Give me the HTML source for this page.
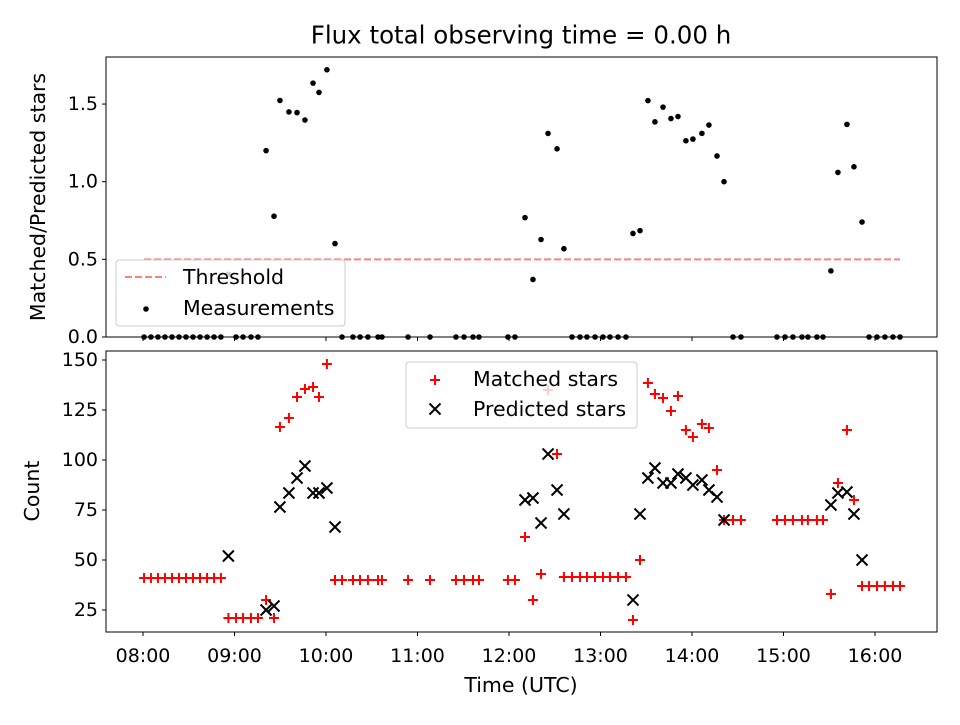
<!DOCTYPE html>
<html><head><meta charset="utf-8"><style>
body{margin:0;background:#fff}
svg text{font-family:"DejaVu Sans","Liberation Sans",sans-serif;fill:#000}
</style></head><body>
<svg id="c" width="960" height="720" viewBox="0 0 960 720" xmlns="http://www.w3.org/2000/svg"></svg>
<script>
// minutes after 08:00 UTC
const timesMin=[0.7,5.2,9.8,14.4,19,23.6,28.2,32.8,37.4,42,46.6,51.1,56,61,65.6,70.8,75.4,80.7,85.9,89.8,95.7,101,106.2,111.5,115.4,120.6,125.9,130.5,137.7,142.3,147.5,154.1,156.7,173.8,188.2,205.2,210.5,216.4,220.3,239.3,243.9,250.5,255.7,261,265.6,271.5,276,281.3,286.5,291.1,296.4,301.6,306.2,311.5,316.7,321.3,325.9,331.1,335.7,341,346.2,350.8,356,360.6,366.5,371.1,376.4,381,386.9,392.1,415.7,421,426.2,432.1,436,441.9,445.9,451.1,455.7,461.6,466.2,471.5,476.1,481.3,486.5,491.8,496.4];
const matched=[41,41,41,41,41,41,41,41,41,41,41,41,21,21,21,21,21,30,21,116.5,121,131.5,135.5,136.5,131.5,148,40,40,40,40,40,40,40,40,40,40,40,40,40,40,40,61.5,30,43,135,103,41.5,41.5,41.5,41.5,41.5,41.5,41.5,41.5,41.5,20,50,138.5,133,131,124.5,132,115,111.5,118,116,95,70,70,70,70,70,70,70,70,70,70,33,88.5,115,80,37,37,37,37,37,37];
const predicted=[null,null,null,null,null,null,null,null,null,null,null,null,52,null,null,null,null,25,27,76.5,83.5,91,97,83.5,83.5,86,66.5,null,null,null,null,null,null,null,null,null,null,null,null,null,null,80,81,68.5,103,85,73,null,null,null,null,null,null,null,null,30,73,91,96,88.5,88.5,93,91,87.5,90,85,81.5,70,null,null,null,null,null,null,null,null,null,77.5,83.5,84,73,50,null,null,null,null,null];
const threshold=0.5;
const timeTicks=["08:00","09:00","10:00","11:00","12:00","13:00","14:00","15:00","16:00"];
const ratioTicks=[0,0.5,1.0,1.5];
const countTicks=[25,50,75,100,125,150];

const NS="http://www.w3.org/2000/svg";
const svg=document.getElementById('c');
function el(t,a,p){const e=document.createElementNS(NS,t);for(const k in a)e.setAttribute(k,a[k]);(p||svg).appendChild(e);return e;}
const L=106,R=937,T1=57,B1=337,T2=351,B2=632;
const FS='19', FL='20.5';
const xs=m=>143+m*91.5/60;
const y1=v=>337-v*155.3;
const y2=v=>610-(v-25)*2;

let t=el('text',{x:521,y:35,'text-anchor':'middle','dominant-baseline':'central','font-size':'24.5'});t.textContent='Flux total observing time = 0.00 h';


[[T1,B1,'ratio-axes'],[T2,B2,'count-axes']].forEach(([a,b,n])=>{const r=el('rect',{x:L,y:a,width:R-L,height:b-a,fill:'#fff',stroke:'#000','stroke-width':1});});

timeTicks.forEach((s,i)=>{const x=xs(i*60);
 el('line',{x1:x,x2:x,y1:B1,y2:B1+4,stroke:'#000'});
 el('line',{x1:x,x2:x,y1:B2,y2:B2+4,stroke:'#000'});
 const tx=el('text',{x:x,y:B2+24,'text-anchor':'middle','dominant-baseline':'central','font-size':FS});tx.textContent=s;
 });
ratioTicks.forEach(v=>{const y=y1(v);el('line',{x1:L-4,x2:L,y1:y,y2:y,stroke:'#000'});
 const tx=el('text',{x:L-8,y:y,'text-anchor':'end','dominant-baseline':'central','font-size':FS});tx.textContent=v.toFixed(1);
 });
countTicks.forEach(v=>{const y=y2(v);el('line',{x1:L-4,x2:L,y1:y,y2:y,stroke:'#000'});
 const tx=el('text',{x:L-8,y:y,'text-anchor':'end','dominant-baseline':'central','font-size':FS});tx.textContent=v;
 });

t=el('text',{x:0,y:0,transform:'translate(38,197) rotate(-90)','text-anchor':'middle','dominant-baseline':'central','font-size':FL});t.textContent='Matched/Predicted stars';

t=el('text',{x:0,y:0,transform:'translate(32,491) rotate(-90)','text-anchor':'middle','dominant-baseline':'central','font-size':FL});t.textContent='Count';

t=el('text',{x:521,y:685,'text-anchor':'middle','dominant-baseline':'central','font-size':FL});t.textContent='Time (UTC)';


const th=el('line',{x1:xs(timesMin[0]),x2:xs(timesMin[timesMin.length-1]),y1:y1(threshold),y2:y1(threshold),stroke:'#ff8080','stroke-width':2,'stroke-dasharray':'7,3'});


timesMin.forEach((m,i)=>{const p=predicted[i];const r=p?matched[i]/p:0;
 const c=el('circle',{cx:xs(m),cy:y1(r),r:2.8,fill:'#000'});
 });

timesMin.forEach((m,i)=>{const x=xs(m),y=y2(matched[i]);
 const g=el('path',{d:`M${x-5},${y}H${x+5}M${x},${y-5}V${y+5}`,stroke:'#f00','stroke-width':2});
 });
timesMin.forEach((m,i)=>{if(predicted[i]==null)return;const x=xs(m),y=y2(predicted[i]);
 const g=el('path',{d:`M${x-5.5},${y-5.5}L${x+5.5},${y+5.5}M${x-5.5},${y+5.5}L${x+5.5},${y-5.5}`,stroke:'#000','stroke-width':2});
 });

let lg=el('g',{});
el('rect',{x:116,y:260,width:229,height:66,rx:3,fill:'rgba(255,255,255,0.8)',stroke:'#ccc'},lg);
el('line',{x1:125,x2:166,y1:277,y2:277,stroke:'#ff8080','stroke-width':2,'stroke-dasharray':'7,3'},lg);
t=el('text',{x:183,y:277,'dominant-baseline':'central','font-size':FL},lg);t.textContent='Threshold';
el('circle',{cx:146,cy:309,r:2.8,fill:'#000'},lg);
t=el('text',{x:183,y:308,'dominant-baseline':'central','font-size':FL},lg);t.textContent='Measurements';

lg=el('g',{});
el('rect',{x:406,y:362,width:231,height:66,rx:3,fill:'rgba(255,255,255,0.8)',stroke:'#ccc'},lg);
el('path',{d:'M430,380H440M435,375V385',stroke:'#f00','stroke-width':2},lg);
t=el('text',{x:473,y:379,'dominant-baseline':'central','font-size':FL},lg);t.textContent='Matched stars';
el('path',{d:'M429.5,403.5L440.5,414.5M429.5,414.5L440.5,403.5',stroke:'#000','stroke-width':2},lg);
t=el('text',{x:473,y:409,'dominant-baseline':'central','font-size':FL},lg);t.textContent='Predicted stars';
</script>
</body></html>
